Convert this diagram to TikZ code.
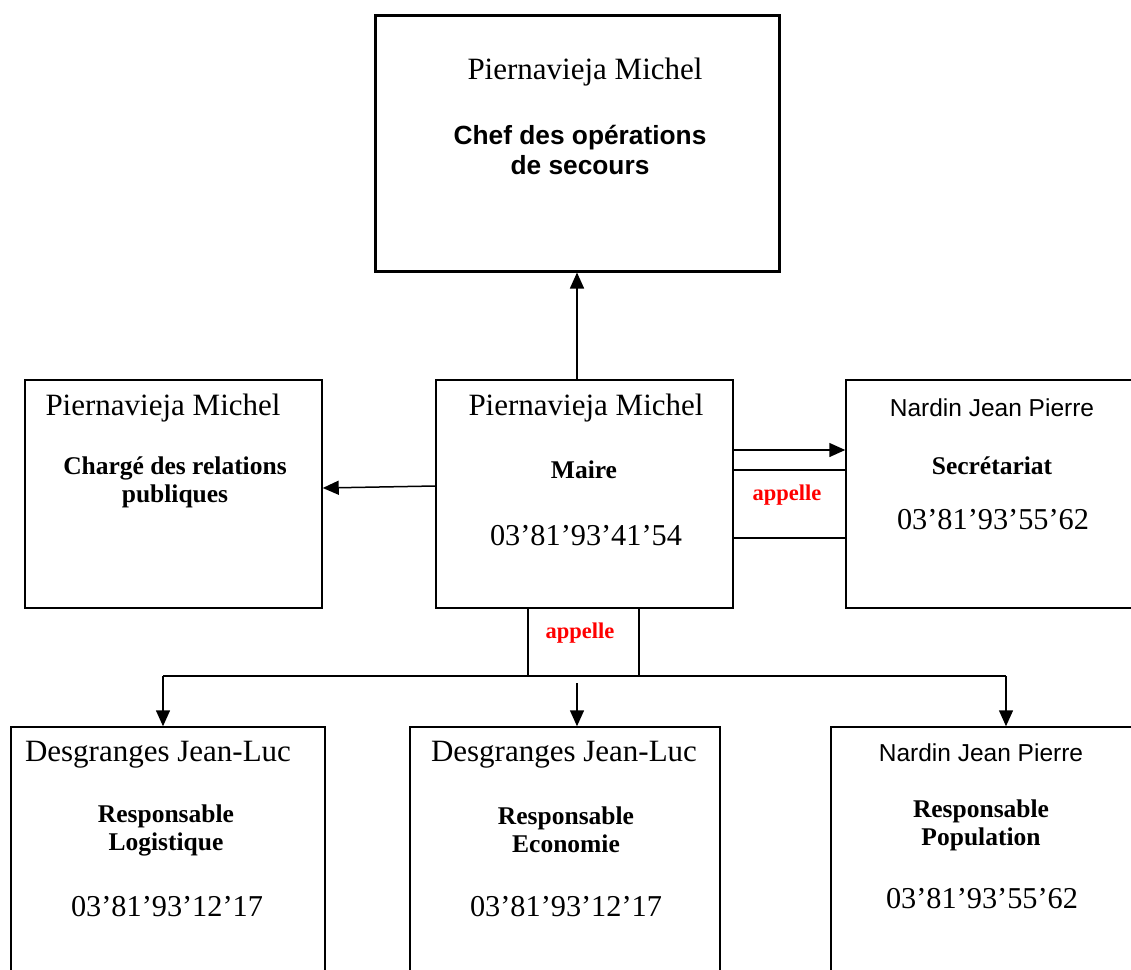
\documentclass[tikz,border=0pt]{standalone}
\usepackage{fontspec}
\setmainfont{Liberation Serif}
\newfontfamily\sansf{Liberation Sans}
\usetikzlibrary{arrows.meta}
\tikzset{
  pbox/.style={draw, line width=1.5pt, inner sep=0pt, rectangle},
  parr/.style={line width=1.5pt, -{Triangle[length=16pt,width=14pt]}},
  pconn/.style={line width=1.5pt},
  pname/.style={inner sep=0pt, font=\fontsize{31}{33}\selectfont},
  psname/.style={inner sep=0pt, font=\sansf\fontsize{24.5}{26}\selectfont},
  prole/.style={inner sep=0pt, align=center, font=\bfseries\fontsize{25.5}{28}\selectfont},
  psrole/.style={inner sep=0pt, align=center, font=\sansf\bfseries\fontsize{26.3}{30}\selectfont},
  pphone/.style={inner sep=0pt, font=\fontsize{30.3}{32}\selectfont},
  pcall/.style={inner sep=0pt, text=red, font=\bfseries\fontsize{22.5}{24}\selectfont}
}
\begin{document}
\begin{tikzpicture}[x=1pt,y=-1pt]
\useasboundingbox (0,0) rectangle (1131,969);
\clip (0,0) rectangle (1131,969);
\fill[white] (0,0) rectangle (1131,969);
% boxes
\node[pbox, line width=3pt, minimum width=404pt, minimum height=256pt] (top) at (577,143) {};
\node[pbox, minimum width=297pt, minimum height=228pt] (left) at (173.5,494) {};
\node[pbox, minimum width=297pt, minimum height=228pt] (center) at (584.5,494) {};
\node[pbox, minimum width=290pt, minimum height=228pt] (right) at (991,494) {};
\node[pbox, minimum width=113pt, minimum height=68pt] (appR) at (789.5,504) {};
\node[pbox, minimum width=111pt, minimum height=68pt] (appB) at (583.5,642) {};
\node[pbox, minimum width=314pt, minimum height=248pt] (bl) at (168,851) {};
\node[pbox, minimum width=310pt, minimum height=248pt] (bm) at (565,851) {};
\node[pbox, minimum width=309pt, minimum height=248pt] (br) at (985.5,851) {};
% texts top
\node[pname] (t1) at (585,72) {Piernavieja Michel};
\node[psrole] (t2) at (580,150) {Chef des opérations\\de secours};
% left
\node[pname] (l1) at (163,408) {Piernavieja Michel};
\node[prole] (l2) at (175,482) {Chargé des relations\\publiques};
% center
\node[pname] (c1) at (586,408) {Piernavieja Michel};
\node[prole] (c2) at (584,470) {Maire};
\node[pphone] (c3) at (586,536) {03’81’93’41’54};
% right
\node[psname] (r1) at (992,408) {Nardin Jean Pierre};
\node[prole] (r2) at (992,466) {Secrétariat};
\node[pphone] (r3) at (993,520) {03’81’93’55’62};
% appelle
\node[pcall] (a1) at (787,495) {appelle};
\node[pcall] (a2) at (580,633) {appelle};
% bottom left
\node[pname] (b1) at (158,755) {Desgranges Jean-Luc};
\node[prole] (b2) at (166,830) {Responsable\\Logistique};
\node[pphone] (b3) at (167,907) {03’81’93’12’17};
% bottom middle
\node[pname] (m1) at (564,755) {Desgranges Jean-Luc};
\node[prole] (m2) at (566,830) {Responsable\\Economie};
\node[pphone] (m3) at (566,907) {03’81’93’12’17};
% bottom right
\node[psname] (n1) at (981,753) {Nardin Jean Pierre};
\node[prole] (n2) at (981,825) {Responsable\\Population};
\node[pphone] (n3) at (982,899) {03’81’93’55’62};
% connectors
\draw[parr] (top.south |- center.north) -- (top.south);
\draw[parr] ([yshift=8pt]center.west) -- ([yshift=6pt]left.east);
\draw[parr] ([yshift=44pt]center.east) -- ([yshift=44pt]right.west);
\coordinate (hl) at (163,676);
\coordinate (hr) at (1006,676);
\coordinate (hm) at (577,683);
\draw[pconn] (hl) -- (hr);
\draw[parr] (hl) -- (hl |- bl.north);
\draw[parr] (hm) -- (hm |- bm.north);
\draw[parr] (hr) -- (hr |- br.north);
\end{tikzpicture}
\end{document}
